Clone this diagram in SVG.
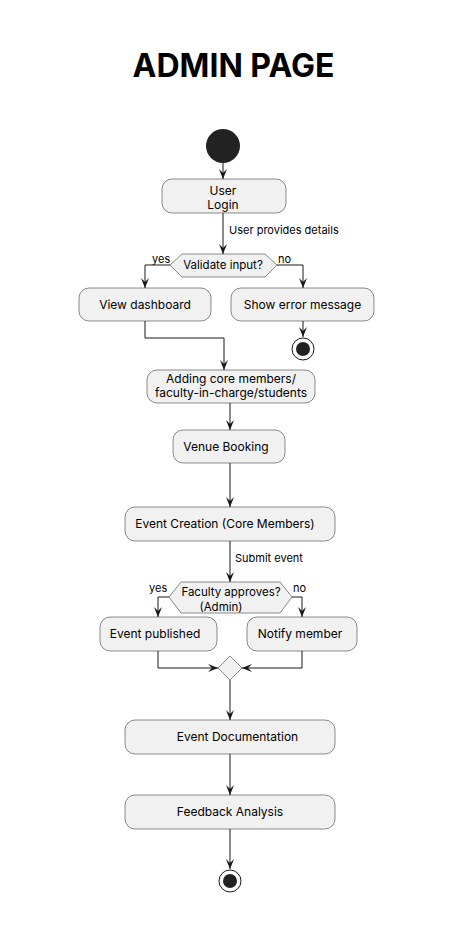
<svg xmlns="http://www.w3.org/2000/svg" width="467" height="944" viewBox="0 0 467 944">
<style>
text{font-family:Inter,"Liberation Sans",sans-serif;fill:#000}
.title{font-size:32px;font-weight:bold}
.t{font-size:12px}
.lbl{font-size:11px}
.box{fill:#F1F1F1;stroke:#181818;stroke-width:0.5}
.c{fill:none;stroke:#181818;stroke-width:1}
</style>
<defs>
<marker id="arr" viewBox="0 0 10 8" refX="10" refY="4" markerWidth="10" markerHeight="8" orient="auto" markerUnits="userSpaceOnUse">
<path d="M0,0 L10,4 L0,8 L4,4 Z" fill="#181818"/>
</marker>
</defs>
<rect width="467" height="944" fill="#fff"/>
<text class="title" x="233.5" y="77" text-anchor="middle">ADMIN PAGE</text>
<g id="connectors">
<path class="c" d="M223,163 V179" marker-end="url(#arr)"/>
<path class="c" d="M223,213 V254" marker-end="url(#arr)"/>
<text class="lbl" x="229" y="234">User provides details</text>
<path class="c" d="M170,265 H145 V288" marker-end="url(#arr)"/>
<text class="lbl" x="152" y="263">yes</text>
<path class="c" d="M277,265 H303 V288" marker-end="url(#arr)"/>
<text class="lbl" x="278" y="263">no</text>
<path class="c" d="M303,321 V337" marker-end="url(#arr)"/>
<path class="c" d="M145,321 V338 H224 V370" marker-end="url(#arr)"/>
<path class="c" d="M230,403 V430" marker-end="url(#arr)"/>
<path class="c" d="M230,463 V507" marker-end="url(#arr)"/>
<path class="c" d="M230,541 V582" marker-end="url(#arr)"/>
<text class="lbl" x="235" y="562">Submit event</text>
<path class="c" d="M169,597 H158 V617" marker-end="url(#arr)"/>
<text class="lbl" x="149" y="592">yes</text>
<path class="c" d="M292,597 H302 V617" marker-end="url(#arr)"/>
<text class="lbl" x="293" y="592">no</text>
<path class="c" d="M158,651 V668 H218" marker-end="url(#arr)"/>
<path class="c" d="M302,651 V668 H242" marker-end="url(#arr)"/>
<path class="c" d="M230,680 V720" marker-end="url(#arr)"/>
<path class="c" d="M230,754 V795" marker-end="url(#arr)"/>
<path class="c" d="M230,829 V869" marker-end="url(#arr)"/>
</g>
<g id="start"><circle cx="223" cy="146" r="17" fill="#222"/></g>
<g id="login"><rect class="box" x="162" y="179" width="124" height="34" rx="10"/>
<text class="t" x="223" y="195" text-anchor="middle">User</text>
<text class="t" x="223" y="209" text-anchor="middle">Login</text></g>
<g id="validate"><polygon class="box" points="170,265 182,254 265,254 277,265 265,277 182,277"/>
<text class="lbl" x="223" y="269" text-anchor="middle" style="font-size:11.5px">Validate input?</text></g>
<g id="dashboard"><rect class="box" x="79" y="288" width="132" height="33" rx="10"/>
<text class="t" x="145" y="309" text-anchor="middle">View dashboard</text></g>
<g id="error"><rect class="box" x="231" y="288" width="143" height="33" rx="10"/>
<text class="t" x="302.5" y="309" text-anchor="middle">Show error message</text></g>
<g id="end1"><circle cx="303" cy="349" r="11" fill="none" stroke="#181818" stroke-width="1"/><circle cx="303" cy="349" r="7" fill="#222"/></g>
<g id="adding"><rect class="box" x="147" y="370" width="168" height="33" rx="10"/>
<text class="t" x="231" y="383" text-anchor="middle">Adding core members/</text>
<text class="t" x="231" y="397" text-anchor="middle">faculty-in-charge/students</text></g>
<g id="venue"><rect class="box" x="173" y="430" width="112" height="33" rx="10"/>
<text class="t" x="226" y="451" text-anchor="middle">Venue Booking</text></g>
<g id="creation"><rect class="box" x="125" y="507" width="210" height="34" rx="10"/>
<text class="t" x="225" y="528" text-anchor="middle">Event Creation (Core Members)</text></g>
<g id="approves"><polygon class="box" points="169,597 181,582 280,582 292,597 280,613 181,613"/>
<text class="t" x="231" y="595.5" text-anchor="middle" style="font-size:11.5px">Faculty approves?</text>
<text class="t" x="221" y="611" text-anchor="middle" style="font-size:11.5px">(Admin)</text></g>
<g id="published"><rect class="box" x="100" y="617" width="117" height="34" rx="10"/>
<text class="t" x="155" y="638" text-anchor="middle">Event published</text></g>
<g id="notify"><rect class="box" x="247" y="617" width="110" height="34" rx="10"/>
<text class="t" x="300" y="638" text-anchor="middle">Notify member</text></g>
<g id="merge"><polygon class="box" points="230,656 242,668 230,680 218,668"/></g>
<g id="documentation"><rect class="box" x="125" y="720" width="210" height="34" rx="10"/>
<text class="t" x="237.5" y="741" text-anchor="middle">Event Documentation</text></g>
<g id="feedback"><rect class="box" x="125" y="795" width="210" height="34" rx="10"/>
<text class="t" x="230" y="816" text-anchor="middle">Feedback Analysis</text></g>
<g id="end2"><circle cx="230" cy="881" r="11" fill="none" stroke="#181818" stroke-width="1"/><circle cx="230" cy="881" r="7" fill="#222"/></g>
</svg>
